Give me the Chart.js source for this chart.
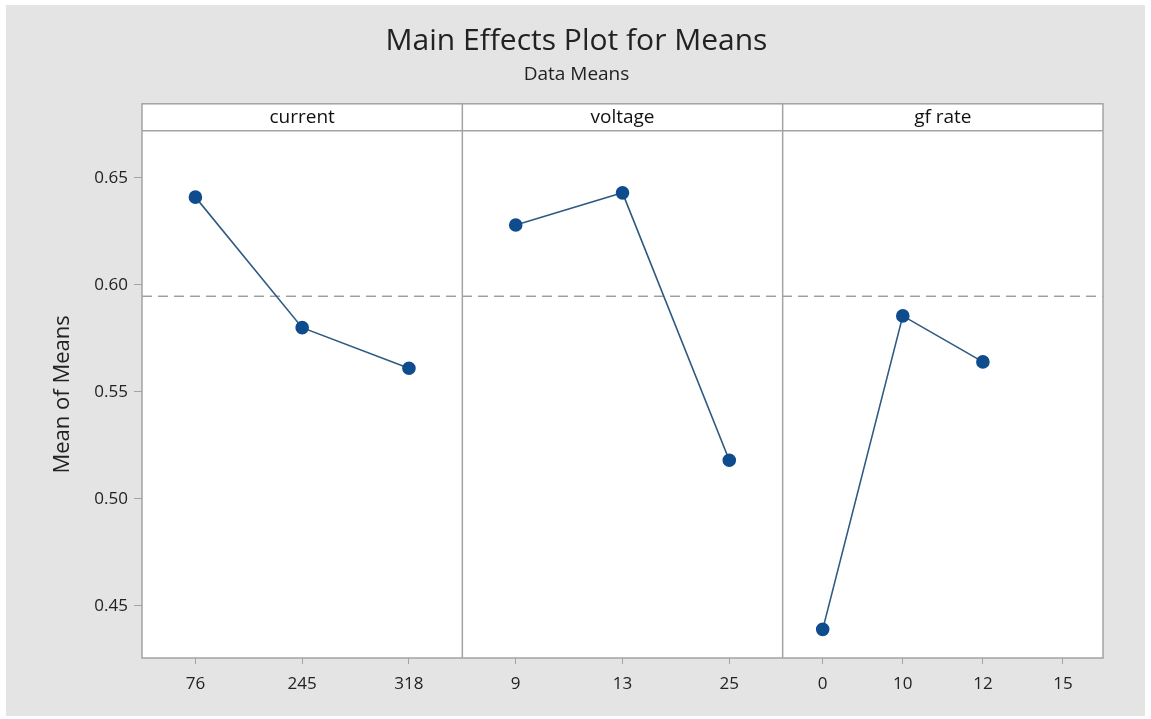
<!DOCTYPE html>
<html>
<head>
<meta charset="utf-8">
<script src="https://cdn.jsdelivr.net/npm/chart.js@4"></script>
<style>
  html, body { margin: 0; padding: 0; background: #ffffff; }
  #wrap { position: absolute; left: 0; top: 0; width: 1151px; height: 719px; }
</style>
</head>
<body>
<div id="wrap"><canvas id="effectsChart" width="1151" height="719"></canvas></div>
<script>
// factor levels and the mean response at each level
var panelNames = ['current', 'voltage', 'gf rate'];
var currentLevels = ['76', '245', '318'];
var currentMeans = [0.641, 0.580, 0.561];
var voltageLevels = ['9', '13', '25'];
var voltageMeans = [0.628, 0.643, 0.518];
var gfLevels = ['0', '10', '12', '15'];
var gfMeans = [0.439, 0.5855, 0.564, null];
var grandMean = 0.5947;
var yTicks = [0.45, 0.50, 0.55, 0.60, 0.65];

var frameColor = '#a3a3a3';
var lineColor = '#2f5a82';
var dotColor = '#0e4c8e';
var textColor = '#222222';
var fontFamily = "'Open Sans', 'Noto Sans', sans-serif";

// gray card, white panels, strip header, frame and the dashed mean line
var panelPlugin = {
  id: 'panels',
  beforeDraw: function(chart) {
    var ctx = chart.ctx;
    var a = chart.chartArea;
    var strip = chart.scales.sCur;
    ctx.save();
    ctx.fillStyle = '#ffffff';
    ctx.fillRect(0, 0, chart.width, chart.height);
    ctx.fillStyle = '#e4e4e4';
    ctx.fillRect(6, 5, 1139, 711);
    ctx.fillStyle = '#ffffff';
    ctx.fillRect(a.left, strip.top, a.right - a.left, a.bottom - strip.top);
    ctx.restore();
  },
  beforeDatasetsDraw: function(chart) {
    var ctx = chart.ctx;
    var a = chart.chartArea;
    var strip = chart.scales.sCur;
    ctx.save();

    // dashed grand mean
    var y = chart.scales.y.getPixelForValue(grandMean);
    ctx.strokeStyle = '#737373';
    ctx.lineWidth = 1;
    ctx.setLineDash([10, 6]);
    ctx.beginPath();
    ctx.moveTo(a.left, y);
    ctx.lineTo(a.right, y);
    ctx.stroke();
    ctx.setLineDash([]);

    // frame
    ctx.strokeStyle = frameColor;
    ctx.lineWidth = 1.5;
    ctx.strokeRect(a.left, strip.top, a.right - a.left, a.bottom - strip.top);
    ctx.beginPath();
    ctx.moveTo(a.left, a.top);
    ctx.lineTo(a.right, a.top);
    ['xCur', 'xVol'].forEach(function(id) {
      var x = chart.scales[id].right;
      ctx.moveTo(x, strip.top);
      ctx.lineTo(x, a.bottom);
    });
    ctx.stroke();
    ctx.restore();
  }
};

function stripAxis(name) {
  return {
    type: 'category',
    labels: [name],
    position: 'top',
    stack: 'strip',
    grid: { display: false },
    border: { display: false },
    ticks: { display: false },
    title: {
      display: true,
      text: name,
      color: '#111111',
      font: { family: fontFamily, size: 19 },
      padding: { top: 2, bottom: 0 }
    },
    afterFit: function(scale) { scale.height = 27; }
  };
}

function levelAxis(levels) {
  return {
    type: 'category',
    labels: levels,
    position: 'bottom',
    stack: 'panels',
    offset: true,
    grid: {
      drawOnChartArea: false,
      drawTicks: true,
      tickLength: 6,
      color: frameColor,
      offset: false
    },
    border: { display: false },
    ticks: {
      color: textColor,
      padding: 10,
      maxRotation: 0,
      font: { family: fontFamily, size: 17 }
    },
    afterFit: function(scale) { scale.height = 61; }
  };
}

function series(values, axisId) {
  return {
    data: values,
    xAxisID: axisId,
    yAxisID: 'y',
    borderColor: lineColor,
    borderWidth: 1.6,
    pointBackgroundColor: dotColor,
    pointBorderColor: dotColor,
    pointRadius: 6,
    pointHoverRadius: 6,
    tension: 0,
    spanGaps: false,
    fill: false
  };
}

var ctx = document.getElementById('effectsChart').getContext('2d');
var myChart = new Chart(ctx, {
  type: 'line',
  data: {
    datasets: [
      series(currentMeans, 'xCur'),
      series(voltageMeans, 'xVol'),
      series(gfMeans, 'xGf')
    ]
  },
  options: {
    responsive: false,
    animation: false,
    events: [],
    layout: { padding: { left: 50, top: 5, right: 48, bottom: 0 } },
    plugins: {
      legend: { display: false },
      tooltip: { enabled: false },
      title: {
        display: true,
        text: 'Main Effects Plot for Means',
        color: textColor,
        font: { family: fontFamily, size: 30, weight: 'normal' },
        padding: { top: 18, bottom: 0 }
      },
      subtitle: {
        display: true,
        text: 'Data Means',
        color: textColor,
        font: { family: fontFamily, size: 19, weight: 'normal' },
        padding: { top: 4, bottom: 18 }
      }
    },
    scales: {
      // top boxes are stacked right to left, so the strip axes go in reverse
      sGf: stripAxis(panelNames[2]),
      sVol: stripAxis(panelNames[1]),
      sCur: stripAxis(panelNames[0]),
      xCur: levelAxis(currentLevels),
      xVol: levelAxis(voltageLevels),
      xGf: levelAxis(gfLevels),
      y: {
        type: 'linear',
        position: 'left',
        min: 0.4256,
        max: 0.672,
        afterBuildTicks: function(scale) {
          scale.ticks = yTicks.map(function(v) { return { value: v }; });
        },
        grid: {
          drawOnChartArea: false,
          drawTicks: true,
          tickLength: 8,
          color: frameColor
        },
        border: { display: false },
        ticks: {
          color: textColor,
          padding: 6,
          font: { family: fontFamily, size: 17 },
          callback: function(v) { return Number(v).toFixed(2); }
        },
        title: {
          display: true,
          text: 'Mean of Means',
          color: textColor,
          font: { family: fontFamily, size: 22 },
          padding: { top: 0, bottom: 0 }
        },
        afterFit: function(scale) { scale.width = 92; }
      }
    }
  },
  plugins: [panelPlugin]
});
</script>
</body>
</html>
